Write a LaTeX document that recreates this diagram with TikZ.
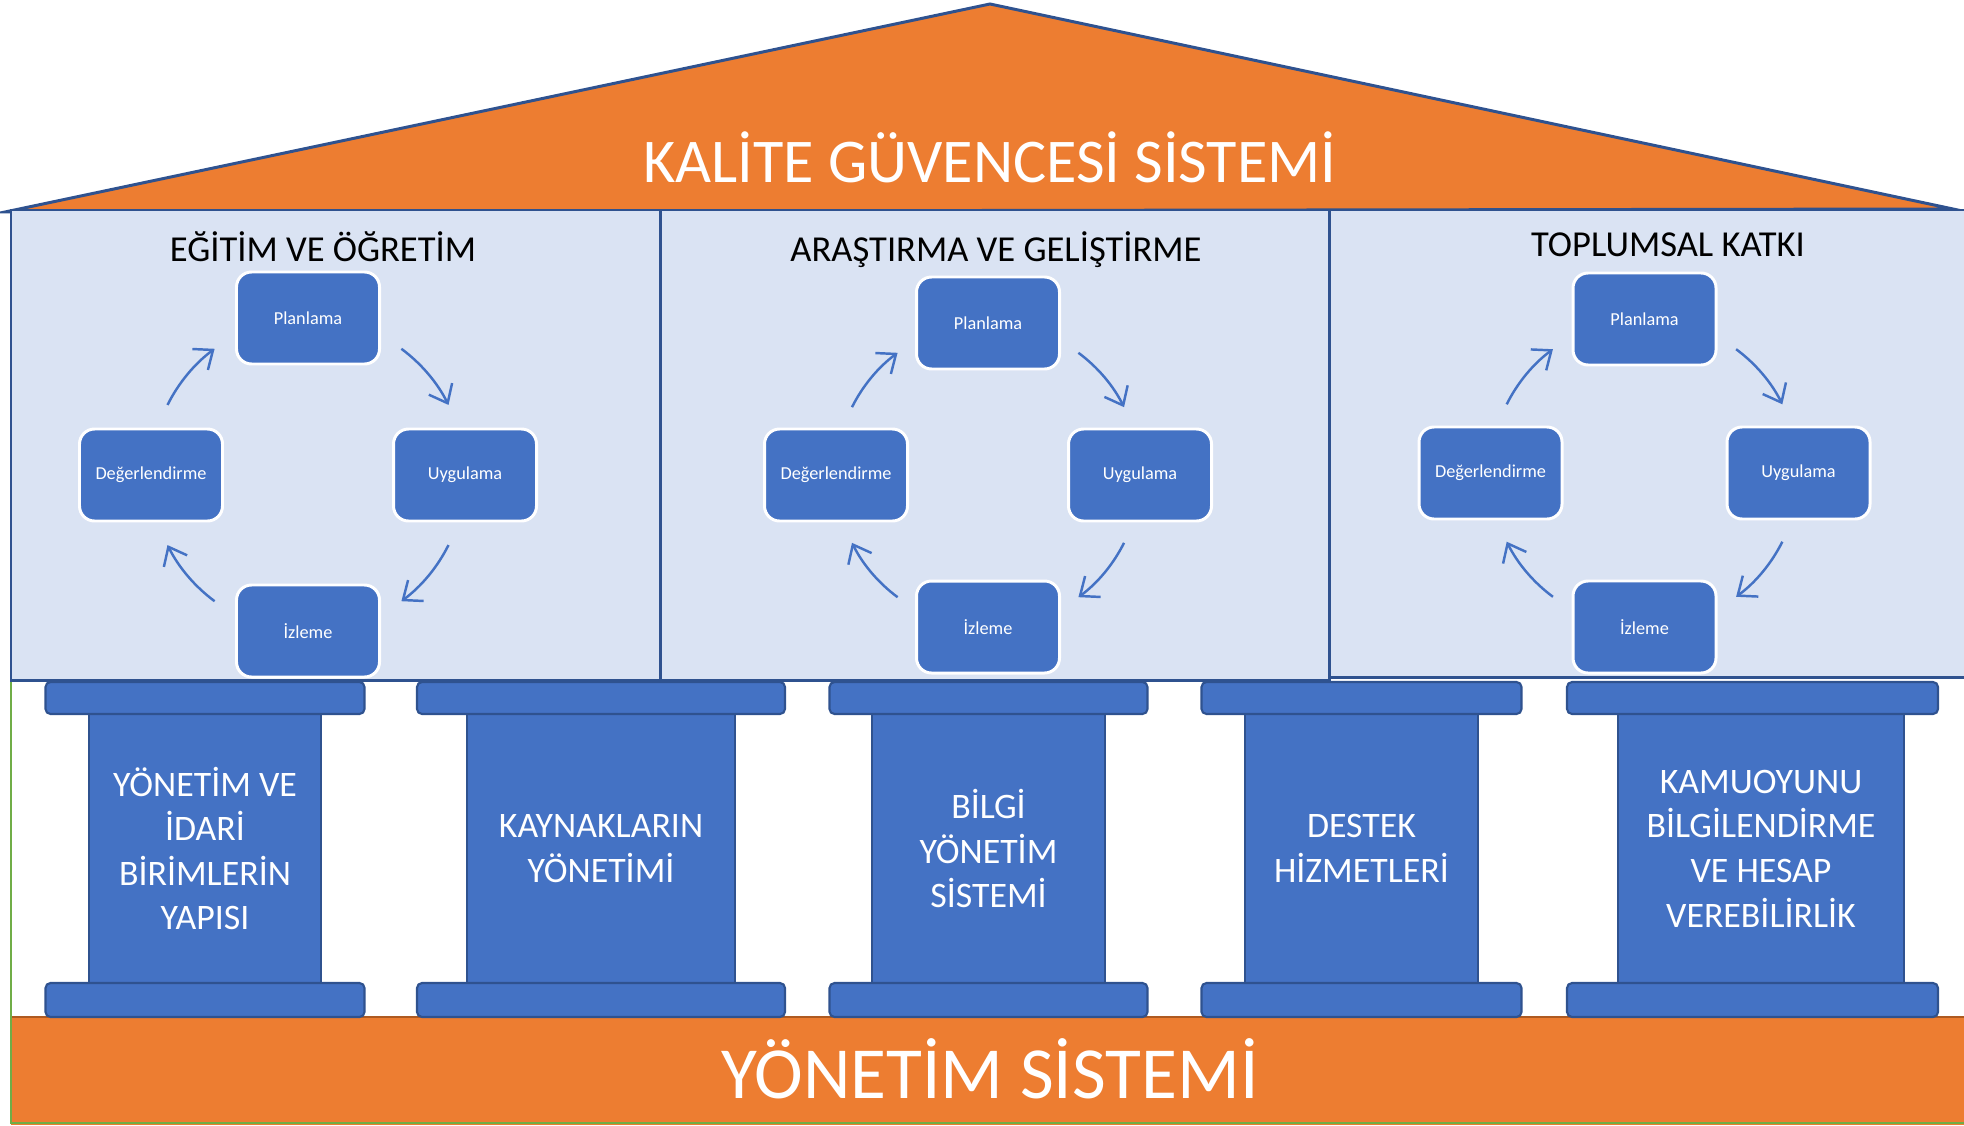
\documentclass[tikz,border=0pt]{standalone}
\usepackage{fontspec}
\setmainfont{Carlito}
\usetikzlibrary{positioning,arrows.meta}
\definecolor{turuncu}{HTML}{ED7D31}
\definecolor{kahve}{HTML}{AE5A21}
\definecolor{mavi}{HTML}{4472C4}
\definecolor{koyu}{HTML}{2F528F}
\definecolor{acik}{HTML}{DAE3F3}
\definecolor{yesil}{HTML}{70AD47}

\begin{document}
\begin{tikzpicture}[
    panel/.style={draw=koyu,fill=acik,line width=0.85pt},
    title/.style={font=\fontsize{10.4}{12.5}\selectfont},
    stepbox/.style={rectangle,rounded corners=0.15cm,fill=mavi,draw=white,line width=0.85pt,
        minimum width=1.43cm,minimum height=0.92cm,text=white,font=\fontsize{5.2}{6.2}\selectfont},
    cyc/.style={draw=mavi,line width=0.7pt,-{Straight Barb[length=1.6mm,width=2.6mm]}},
    shaft/.style={rectangle,fill=mavi,draw=koyu,line width=0.6pt,minimum height=2.69cm,
        inner sep=0pt,outer sep=0pt,text=white,align=center,font=\fontsize{10.2}{12.7}\selectfont},
    capbox/.style={rectangle,rounded corners=0.05cm,fill=mavi,draw=koyu,line width=0.6pt,
        inner sep=0pt,outer sep=0pt,minimum height=0.32cm},
    basebox/.style={capbox,minimum height=0.34cm},
]
    \useasboundingbox (0,0) rectangle (19.64,11.25);

    % ground
    \fill[turuncu] (0.11,0) rectangle (19.70,1.08);
    \draw[kahve,line width=0.4pt] (0.11,1.08) -- (19.70,1.08);
    \draw[yesil,line width=0.5pt] (0.11,4.45) |- (19.70,0.02);
    \node[text=white,font=\fontsize{20.9}{25}\selectfont] (ys) at (9.90,0.56) {YÖNETİM SİSTEMİ};

    % pillars
    \node[shaft,minimum width=2.32cm] (s1) at (2.05,2.765) {YÖNETİM VE\\İDARİ\\BİRİMLERİN\\YAPISI};
    \node[capbox,minimum width=3.19cm,anchor=south] (c1) at (s1.north) {};
    \node[basebox,minimum width=3.19cm,anchor=north] (b1) at (s1.south) {};
    \node[shaft,minimum width=2.68cm] (s2) at (6.01,2.765) {KAYNAKLARIN\\YÖNETİMİ};
    \node[capbox,minimum width=3.68cm,anchor=south] (c2) at (s2.north) {};
    \node[basebox,minimum width=3.68cm,anchor=north] (b2) at (s2.south) {};
    \node[shaft,minimum width=2.33cm] (s3) at (9.885,2.765) {BİLGİ\\YÖNETİM\\SİSTEMİ};
    \node[capbox,minimum width=3.18cm,anchor=south] (c3) at (s3.north) {};
    \node[basebox,minimum width=3.18cm,anchor=north] (b3) at (s3.south) {};
    \node[shaft,minimum width=2.33cm] (s4) at (13.615,2.765) {DESTEK\\HİZMETLERİ};
    \node[capbox,minimum width=3.20cm,anchor=south] (c4) at (s4.north) {};
    \node[basebox,minimum width=3.20cm,anchor=north] (b4) at (s4.south) {};
    \node[shaft,minimum width=2.86cm] (s5) at (17.61,2.765) {KAMUOYUNU\\BİLGİLENDİRME\\VE HESAP\\VEREBİLİRLİK};
    \node[capbox,minimum width=3.71cm,anchor=south,xshift=-0.085cm] (c5) at (s5.north) {};
    \node[basebox,minimum width=3.71cm,anchor=north,xshift=-0.085cm] (b5) at (s5.south) {};

    % roof
    \draw[draw=koyu,fill=turuncu,line width=0.85pt] (0.05,9.13) -- (9.90,11.21) -- (19.53,9.16) -- cycle;
    \node[text=white,font=\fontsize{17.7}{21}\selectfont] (kgs) at (9.90,9.68) {KALİTE GÜVENCESİ SİSTEMİ};

    % panels
    \draw[panel] (0.11,4.45) rectangle (6.60,9.15);
    \draw[panel] (6.60,4.45) rectangle (13.29,9.15);
    \draw[panel] (13.29,4.48) rectangle (19.75,9.15);
    \node[title] (egt) at (3.23,8.78) {EĞİTİM VE ÖĞRETİM};
    \node[title] (arg) at (9.96,8.75) {ARAŞTIRMA VE GELİŞTİRME};
    \node[title] (tpk) at (16.68,8.80) {TOPLUMSAL KATKI};

    % egitim cycle
    \coordinate (k1) at (3.08,6.50);
    \node[stepbox] (p1) at ([yshift=1.57cm]k1) {Planlama};
    \node[stepbox] (u1) at ([xshift=1.57cm]k1) {Uygulama};
    \node[stepbox] (i1) at ([yshift=-1.56cm]k1) {İzleme};
    \node[stepbox] (d1) at ([xshift=-1.57cm]k1) {Değerlendirme};
    \draw[cyc] ([shift={(153.5:1.57)}]k1) arc[start angle=153.5,end angle=126.5,radius=1.57];
    \draw[cyc] ([shift={(53.5:1.57)}]k1) arc[start angle=53.5,end angle=26.5,radius=1.57];
    \draw[cyc] ([shift={(-26.5:1.57)}]k1) arc[start angle=-26.5,end angle=-53.5,radius=1.57];
    \draw[cyc] ([shift={(-126.5:1.57)}]k1) arc[start angle=-126.5,end angle=-153.5,radius=1.57];

    % arastirma cycle
    \coordinate (k2) at (9.88,6.50);
    \node[stepbox] (p2) at ([yshift=1.52cm]k2) {Planlama};
    \node[stepbox] (u2) at ([xshift=1.52cm]k2) {Uygulama};
    \node[stepbox] (i2) at ([yshift=-1.52cm]k2) {İzleme};
    \node[stepbox] (d2) at ([xshift=-1.52cm]k2) {Değerlendirme};
    \draw[cyc] ([shift={(153.5:1.52)}]k2) arc[start angle=153.5,end angle=126.5,radius=1.52];
    \draw[cyc] ([shift={(53.5:1.52)}]k2) arc[start angle=53.5,end angle=26.5,radius=1.52];
    \draw[cyc] ([shift={(-26.5:1.52)}]k2) arc[start angle=-26.5,end angle=-53.5,radius=1.52];
    \draw[cyc] ([shift={(-126.5:1.52)}]k2) arc[start angle=-126.5,end angle=-153.5,radius=1.52];

    % toplumsal cycle
    \coordinate (k3) at (16.445,6.52);
    \node[stepbox] (p3) at ([yshift=1.54cm]k3) {Planlama};
    \node[stepbox] (u3) at ([xshift=1.54cm]k3) {Uygulama};
    \node[stepbox] (i3) at ([yshift=-1.54cm]k3) {İzleme};
    \node[stepbox] (d3) at ([xshift=-1.54cm]k3) {Değerlendirme};
    \draw[cyc] ([shift={(153.5:1.54)}]k3) arc[start angle=153.5,end angle=126.5,radius=1.54];
    \draw[cyc] ([shift={(53.5:1.54)}]k3) arc[start angle=53.5,end angle=26.5,radius=1.54];
    \draw[cyc] ([shift={(-26.5:1.54)}]k3) arc[start angle=-26.5,end angle=-53.5,radius=1.54];
    \draw[cyc] ([shift={(-126.5:1.54)}]k3) arc[start angle=-126.5,end angle=-153.5,radius=1.54];
\end{tikzpicture}
\end{document}
